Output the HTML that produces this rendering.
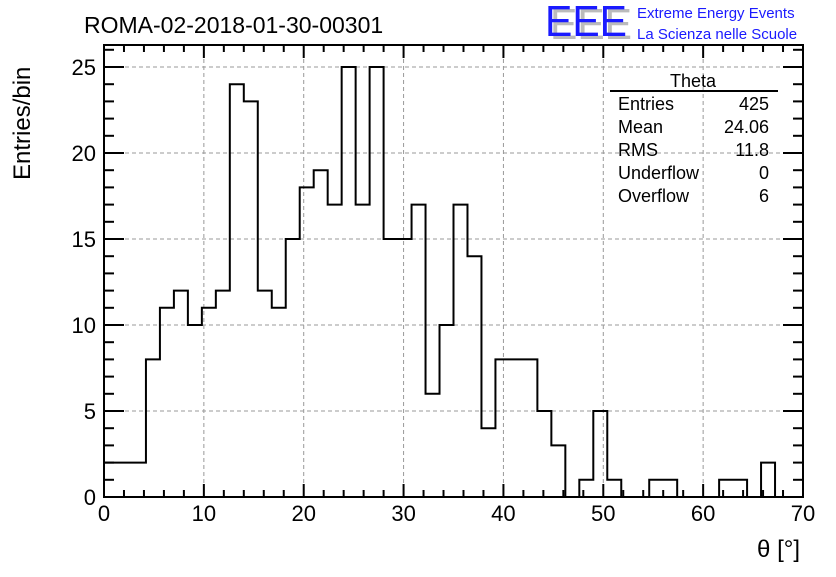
<!DOCTYPE html>
<html><head><meta charset="utf-8"><style>
body{margin:0;background:#fff;}
svg text{font-family:"Liberation Sans",Arial,sans-serif;}
</style></head><body>
<svg id="chart" width="836" height="572" xmlns="http://www.w3.org/2000/svg">
<rect width="836" height="572" fill="#fff"/>
<g id="grid"></g>
<g id="ticks"></g>
<path id="hist" fill="none" stroke="#000" stroke-width="2"/>
<rect x="104" y="45" width="699" height="452" fill="none" stroke="#000" stroke-width="2"/>
<g id="labels" font-size="22"></g>
<text x="84" y="33" font-size="23">ROMA-02-2018-01-30-00301</text>
<text transform="translate(30,180) rotate(-90)" font-size="24">Entries/bin</text>
<text x="800" y="557" font-size="24" text-anchor="end">θ [°]</text>
<g>
<text x="550" y="39" font-size="44" fill="#bbb" font-weight="normal" textLength="82" lengthAdjust="spacingAndGlyphs">EEE</text>
<text x="545" y="36" font-size="44" fill="#1a1aff" textLength="82" lengthAdjust="spacingAndGlyphs">EEE</text>
<text x="637" y="18" font-size="15" fill="#1a1aff">Extreme Energy Events</text>
<text x="637" y="39" font-size="15" fill="#1a1aff">La Scienza nelle Scuole</text>
</g>
<g font-size="18">
<text x="693" y="87" text-anchor="middle">Theta</text>
<line x1="610" y1="91" x2="778" y2="91" stroke="#000" stroke-width="2"/>
<text x="618" y="110">Entries</text><text x="769" y="110" text-anchor="end">425</text>
<text x="618" y="133">Mean</text><text x="769" y="133" text-anchor="end">24.06</text>
<text x="618" y="156">RMS</text><text x="769" y="156" text-anchor="end">11.8</text>
<text x="618" y="179">Underflow</text><text x="769" y="179" text-anchor="end">0</text>
<text x="618" y="202">Overflow</text><text x="769" y="202" text-anchor="end">6</text>
</g>
</svg>
<script>
const binCounts = [2,2,2,8,11,12,10,11,12,24,23,12,11,15,18,19,17,25,17,25,15,15,17,6,10,17,14,4,8,8,8,5,3,0,1,5,1,0,0,1,1,0,0,0,1,1,0,2,0,0];
const xTickLabels = [0,10,20,30,40,50,60,70];
const yTickLabels = [0,5,10,15,20,25];
const xMin = 0, xMax = 70, yMin = 0, yMax = 25;
const L=104,R=803,T=45,B=497,yTop=67;
function sx(v){return L+(v-xMin)/(xMax-xMin)*(R-L);}
function sy(v){return B-(v-yMin)/(yMax-yMin)*(B-yTop);}
const NS="http://www.w3.org/2000/svg";
function mk(tag,attrs,parent){const e=document.createElementNS(NS,tag);for(const k in attrs)e.setAttribute(k,attrs[k]);parent.appendChild(e);return e;}
const bw=(xMax-xMin)/binCounts.length;
let d="M"+sx(0)+","+sy(0);
binCounts.forEach((c,i)=>{d+=" L"+sx(i*bw)+","+sy(c)+" L"+sx((i+1)*bw)+","+sy(c);});
d+=" L"+sx(xMax)+","+sy(0);
document.getElementById('hist').setAttribute('d',d);
const grid=document.getElementById('grid'),ticks=document.getElementById('ticks'),labels=document.getElementById('labels');
xTickLabels.forEach(v=>{
  const x=sx(v);
  if(v>xMin&&v<xMax){const g=mk('line',{x1:x,y1:T,x2:x,y2:B,stroke:'#999','stroke-dasharray':'4,3'},grid);
  
  }
  const t=mk('text',{x:x,y:521,'text-anchor':'middle'},labels);t.textContent=v;
  
  
});
yTickLabels.forEach(v=>{
  const y=sy(v);
  if(v>yMin){const g=mk('line',{x1:L,y1:y,x2:R,y2:y,stroke:'#999','stroke-dasharray':'4,3'},grid);
  
  }
  const t=mk('text',{x:96,y:y+8,'text-anchor':'end'},labels);t.textContent=v;
  
  
});
for(let v=xMin;v<=xMax;v+=2){const x=sx(v),len=(v%10===0)?13:7;
  mk('line',{x1:x,y1:B,x2:x,y2:B-len,stroke:'#000','stroke-width':2},ticks);
  mk('line',{x1:x,y1:T,x2:x,y2:T+len,stroke:'#000','stroke-width':2},ticks);}
for(let v=yMin;v*(B-yTop)/(yMax-yMin)<=B-T;v+=1){const y=sy(v),len=(v%5===0)?20:10;
  mk('line',{x1:L,y1:y,x2:L+len,y2:y,stroke:'#000','stroke-width':2},ticks);
  mk('line',{x1:R,y1:y,x2:R-len,y2:y,stroke:'#000','stroke-width':2},ticks);}
</script>
</body></html>
